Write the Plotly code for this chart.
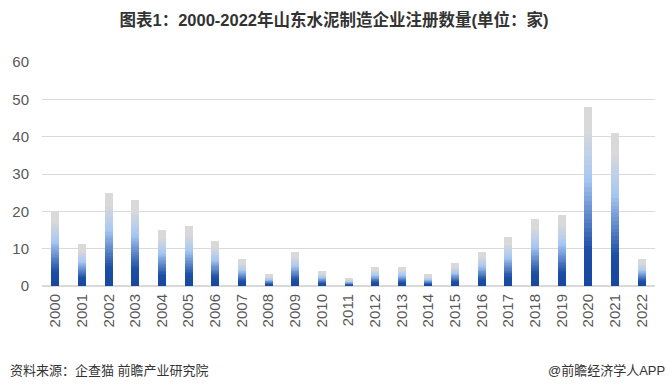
import plotly.graph_objects as go

years = [str(y) for y in range(2000, 2023)]
counts = [20, 11, 25, 23, 15, 16, 12, 7, 3, 9, 4, 2, 5, 5, 3, 6, 9, 13, 18, 19, 48, 41, 7]
y_ticks = [0, 10, 20, 30, 40, 50, 60]

# gradient stops (fraction of bar height -> colour)
stops = [(0.0, (23, 71, 158)), (0.2, (28, 78, 165)), (0.6, (168, 200, 243)),
         (0.87, (217, 217, 217)), (1.0, (217, 217, 217))]

def color_at(f):
    for (f0, c0), (f1, c1) in zip(stops[:-1], stops[1:]):
        if f0 <= f <= f1:
            t = (f - f0) / (f1 - f0) if f1 > f0 else 0
            c = [round(a + (b - a) * t) for a, b in zip(c0, c1)]
            return f"rgb({c[0]},{c[1]},{c[2]})"
    return "rgb(217,217,217)"

N = 40
fig = go.Figure()
for i in range(N):
    f = (i + 0.5) / N
    fig.add_trace(go.Bar(
        x=years, y=[v / N for v in counts],
        marker=dict(color=color_at(f), line=dict(width=0)),
        showlegend=False, hoverinfo="skip",
    ))

W, H = 668, 391
ML, MR, MT, MB = 40, 13, 62, 105
plot_w, plot_h = W - ML - MR, H - MT - MB

fig.update_layout(
    barmode="stack", bargap=0.7,
    width=W, height=H,
    margin=dict(l=ML, r=MR, t=MT, b=MB),
    paper_bgcolor="white", plot_bgcolor="white",
    font=dict(family="Liberation Sans, Noto Sans CJK SC, sans-serif", color="#595959"),
    title=dict(text="<b>图表1：2000-2022年山东水泥制造企业注册数量(单位：家)</b>",
               x=0.5, xanchor="center", y=1 - 20 / H, yanchor="middle",
               font=dict(size=16.5, color="#333333")),
    xaxis=dict(tickangle=-90, tickfont=dict(size=15, color="#595959"),
               showgrid=False, showline=False, ticks="", ticklabelstandoff=4),
    yaxis=dict(range=[0, 60], tickvals=y_ticks, tickfont=dict(size=15, color="#595959"),
               gridcolor="#d9d9d9", gridwidth=1, zeroline=True, zerolinecolor="#d9d9d9",
               showline=False, ticks="", ticklabelstandoff=12),
)
foot_y = (MT + plot_h - 370) / plot_h
fig.add_annotation(text="资料来源：企查猫 前瞻产业研究院", xref="paper", yref="paper",
                   x=(6 - ML) / plot_w, xanchor="left", y=foot_y, yanchor="middle",
                   showarrow=False, font=dict(size=13, color="#333333"))
fig.add_annotation(text="@前瞻经济学人APP", xref="paper", yref="paper",
                   x=(667 - ML) / plot_w, xanchor="right", y=foot_y, yanchor="middle",
                   showarrow=False, font=dict(size=13, color="#333333"))

fig.write_html("out.html", config={"displayModeBar": False},
               post_script="document.body.style.margin='0';document.body.style.overflow='hidden';")
